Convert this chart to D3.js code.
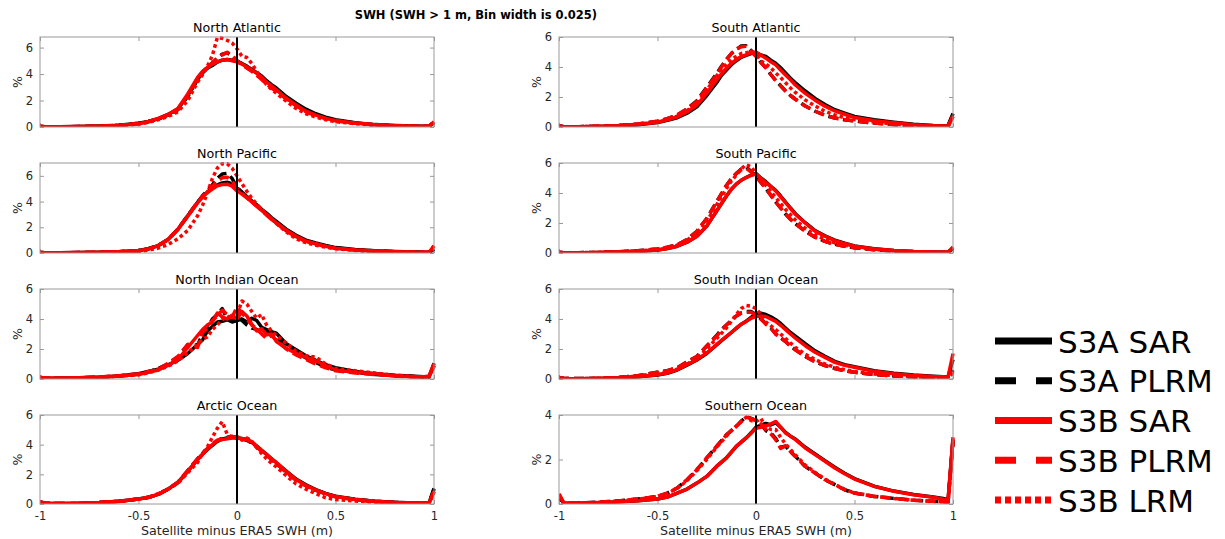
<!DOCTYPE html>
<html><head><meta charset="utf-8">
<script src="https://cdn.jsdelivr.net/npm/d3@7"></script>
<style>body{margin:0;background:#fff}svg{display:block}text{font-family:"DejaVu Sans",sans-serif}</style>
</head><body><svg id="c" width="1225" height="539"></svg>
<script>
// ---- data ----
const bins = [-1,-0.975,-0.9,-0.8,-0.7,-0.6, -0.5,-0.45,-0.4,-0.35,-0.3,-0.25, -0.2,-0.175,-0.15,-0.125,-0.1,-0.075,-0.05,-0.025, 0,0.025,0.05,0.075,0.1,0.125,0.15,0.175, 0.2,0.25,0.3,0.35,0.4,0.45,0.5, 0.6,0.7,0.8,0.9,0.95,0.975,1];
const seriesNames = ["S3A SAR","S3A PLRM","S3B SAR","S3B PLRM","S3B LRM"];
const regionNames = ["North Atlantic","North Pacific","North Indian Ocean","Arctic Ocean","South Atlantic","South Pacific","South Indian Ocean","Southern Ocean"];
const yMaxes = [6.8,7,6,6,6,6,6,4];
const xTicks = [-1,-0.5,0,0.5,1];
const xTickLabels = ["-1","-0.5","0","0.5","1"];
const title = "SWH (SWH > 1 m, Bin width is 0.025)";
const xLabel = "Satellite minus ERA5 SWH (m)";
const yLabel = "%";

// each region: rows in seriesNames order
const northAtlantic = [
 [0.03,0.02,0.02,0.03,0.07,0.13, 0.28,0.42,0.62,0.95,1.35,2.4, 3.6,4.1,4.45,4.65,4.9,5.05,5.1,5.05, 4.95,4.8,4.6,4.35,4.1,3.85,3.5,3.2, 2.95,2.3,1.8,1.35,1.0,0.75,0.55, 0.32,0.18,0.11,0.07,0.05,0.05,0.35],
 [0.03,0.02,0.02,0.03,0.07,0.13, 0.28,0.42,0.6,0.9,1.3,2.3, 3.6,4.1,4.5,4.85,5.2,5.5,5.6,5.4, 5.0,4.75,4.5,4.25,3.95,3.65,3.3,3.0, 2.75,2.15,1.65,1.2,0.9,0.68,0.5, 0.3,0.17,0.1,0.06,0.05,0.05,0.35],
 [0.05,0.02,0.02,0.03,0.06,0.12, 0.25,0.4,0.65,0.95,1.4,2.5, 3.75,4.2,4.5,4.75,4.92,5.05,5.1,5.0, 4.92,4.75,4.55,4.3,4.05,3.75,3.4,3.1, 2.8,2.17,1.66,1.2,0.9,0.65,0.48, 0.3,0.17,0.1,0.06,0.05,0.05,0.4],
 [0.05,0.02,0.02,0.03,0.06,0.12, 0.26,0.4,0.62,0.92,1.35,2.4, 3.7,4.15,4.5,4.85,5.2,5.45,5.65,5.35, 5.0,4.7,4.45,4.2,3.9,3.6,3.25,2.95, 2.7,2.1,1.6,1.15,0.85,0.64,0.47, 0.28,0.16,0.1,0.06,0.05,0.05,0.4],
 [0.04,0.02,0.02,0.03,0.05,0.1, 0.22,0.35,0.55,0.8,1.15,2.0, 3.4,3.95,4.6,5.4,6.75,6.7,6.55,6.35, 5.9,5.35,5.25,4.8,4.2,3.7,3.2,2.85, 2.55,1.95,1.4,1.0,0.75,0.55,0.4, 0.25,0.15,0.09,0.05,0.04,0.05,0.35]
];
const northPacific = [
 [0.04,0.02,0.02,0.03,0.05,0.1, 0.2,0.33,0.58,1.05,1.85,2.9, 3.95,4.4,4.75,5.05,5.3,5.45,5.5,5.4, 5.05,4.75,4.4,4.05,3.75,3.4,3.1,2.75, 2.45,1.85,1.38,1.0,0.78,0.58,0.42, 0.27,0.17,0.11,0.07,0.05,0.05,0.3],
 [0.04,0.02,0.02,0.03,0.05,0.1, 0.2,0.33,0.58,1.05,1.85,2.9, 3.95,4.45,4.85,5.3,5.8,6.15,6.2,5.8, 5.1,4.7,4.35,4.0,3.7,3.35,3.0,2.65, 2.35,1.75,1.3,0.95,0.72,0.54,0.4, 0.25,0.16,0.1,0.06,0.05,0.05,0.3],
 [0.04,0.02,0.02,0.03,0.05,0.1, 0.18,0.32,0.58,1.05,1.83,2.87, 3.9,4.35,4.7,4.98,5.22,5.33,5.35,5.2, 4.83,4.58,4.3,3.98,3.65,3.33,3.0,2.67, 2.35,1.78,1.3,0.92,0.73,0.52,0.37, 0.24,0.15,0.1,0.06,0.05,0.06,0.55],
 [0.04,0.02,0.02,0.03,0.05,0.1, 0.18,0.32,0.58,1.05,1.85,2.9, 3.95,4.4,4.8,5.2,5.6,5.85,5.9,5.6, 5.0,4.65,4.3,3.95,3.65,3.3,2.95,2.62, 2.3,1.72,1.25,0.9,0.7,0.5,0.36, 0.23,0.15,0.1,0.06,0.05,0.06,0.55],
 [0.03,0.02,0.02,0.02,0.04,0.07, 0.13,0.22,0.38,0.65,1.1,1.75, 2.9,3.7,4.7,5.8,6.6,6.95,6.95,6.6, 6.0,5.4,4.8,4.25,3.8,3.4,3.0,2.65, 2.3,1.65,1.1,0.8,0.6,0.45,0.33, 0.2,0.12,0.08,0.05,0.04,0.05,0.45]
];
const northIndian = [
 [0.1,0.05,0.05,0.08,0.12,0.2, 0.35,0.5,0.65,0.95,1.25,1.7, 2.3,2.6,3.2,3.5,3.8,3.85,3.95,3.8, 3.9,4.0,3.8,4.05,3.9,3.45,3.3,3.15, 3.05,2.35,1.95,1.55,1.25,0.95,0.75, 0.5,0.35,0.25,0.18,0.15,0.15,1.05],
 [0.1,0.05,0.05,0.08,0.12,0.2, 0.33,0.48,0.7,1.0,1.45,2.3, 2.25,3.0,3.4,4.0,4.3,4.7,4.0,3.9, 4.2,3.9,3.6,3.4,3.3,3.1,3.15,2.9, 2.8,2.2,1.8,1.4,1.1,0.8,0.6, 0.45,0.3,0.22,0.16,0.12,0.12,0.9],
 [0.12,0.06,0.05,0.08,0.14,0.2, 0.3,0.45,0.6,0.9,1.3,2.1, 2.9,3.3,3.6,3.8,4.4,4.15,4.0,4.25, 4.0,4.5,4.2,3.65,3.2,3.35,2.95,3.0, 2.5,2.05,1.7,1.45,1.2,0.9,0.6, 0.45,0.35,0.22,0.15,0.15,0.2,1.0],
 [0.12,0.06,0.05,0.08,0.13,0.22, 0.35,0.5,0.65,1.05,1.5,2.3, 2.1,3.1,3.4,3.9,4.2,4.6,4.3,4.1, 4.8,4.4,4.0,3.6,3.35,3.0,2.7,2.9, 2.6,2.0,1.6,1.3,1.0,0.75,0.55, 0.4,0.3,0.2,0.14,0.12,0.15,0.9],
 [0.1,0.05,0.05,0.07,0.1,0.18, 0.28,0.42,0.6,0.85,1.2,1.75, 2.3,2.65,2.8,3.3,3.6,3.95,4.2,4.0, 4.3,5.2,5.0,4.5,4.05,4.3,3.6,3.2, 2.9,2.4,1.85,1.55,1.45,1.0,0.7, 0.55,0.4,0.25,0.17,0.14,0.15,0.85]
];
const arctic = [
 [0.12,0.05,0.03,0.05,0.1,0.18, 0.34,0.45,0.65,1.0,1.45,2.2, 3.0,3.35,3.68,3.95,4.22,4.38,4.45,4.5, 4.47,4.42,4.35,4.15,3.9,3.62,3.35,3.05, 2.78,2.22,1.68,1.3,0.97,0.72,0.53, 0.32,0.19,0.11,0.07,0.06,0.06,1.05],
 [0.12,0.05,0.03,0.05,0.1,0.18, 0.33,0.44,0.65,1.0,1.45,2.25, 3.05,3.4,3.72,4.0,4.25,4.45,4.5,4.55, 4.45,4.38,4.3,4.1,3.85,3.58,3.3,3.0, 2.72,2.15,1.62,1.25,0.93,0.7,0.5, 0.3,0.18,0.1,0.07,0.06,0.06,1.0],
 [0.15,0.05,0.03,0.05,0.1,0.18, 0.33,0.45,0.65,1.0,1.45,2.2, 3.0,3.35,3.7,4.0,4.25,4.35,4.4,4.45, 4.45,4.4,4.35,4.2,3.9,3.62,3.35,3.05, 2.8,2.2,1.65,1.25,0.95,0.7,0.5, 0.3,0.18,0.1,0.07,0.06,0.06,0.85],
 [0.15,0.05,0.03,0.05,0.1,0.18, 0.33,0.45,0.66,1.0,1.48,2.25, 3.05,3.4,3.75,4.05,4.3,4.4,4.45,4.55, 4.45,4.4,4.35,4.1,3.85,3.55,3.3,3.0, 2.72,2.12,1.6,1.22,0.92,0.68,0.48, 0.28,0.17,0.1,0.06,0.06,0.06,0.85],
 [0.12,0.04,0.03,0.04,0.08,0.16, 0.32,0.45,0.7,1.0,1.4,2.1, 2.8,3.4,3.85,4.5,5.1,5.55,4.7,4.5, 4.55,4.3,4.45,4.25,3.8,3.4,3.05,2.75, 2.5,1.9,1.35,1.0,0.7,0.42,0.3, 0.2,0.13,0.08,0.05,0.05,0.05,0.8]
];
const southAtlantic = [
 [0.05,0.02,0.02,0.04,0.08,0.15, 0.3,0.45,0.62,0.92,1.35,2.1, 2.95,3.45,3.8,4.15,4.42,4.65,4.78,4.9, 4.95,4.8,4.7,4.45,4.25,3.95,3.6,3.25, 2.95,2.4,1.9,1.5,1.15,0.92,0.7, 0.48,0.32,0.18,0.1,0.08,0.1,0.9],
 [0.06,0.02,0.02,0.05,0.1,0.2, 0.38,0.55,0.8,1.2,1.75,2.65, 3.55,4.05,4.5,4.9,5.15,5.4,5.42,5.1, 4.75,4.3,3.95,3.5,3.1,2.75,2.4,2.1, 1.85,1.4,1.05,0.78,0.6,0.48,0.4, 0.26,0.16,0.09,0.06,0.05,0.06,0.8],
 [0.05,0.02,0.02,0.04,0.08,0.16, 0.32,0.48,0.67,1.0,1.46,2.24, 3.13,3.55,3.92,4.25,4.48,4.7,4.81,4.95, 5.0,4.78,4.59,4.35,4.14,3.8,3.47,3.15, 2.8,2.24,1.79,1.39,1.07,0.85,0.63, 0.42,0.28,0.15,0.08,0.06,0.06,0.7],
 [0.06,0.02,0.02,0.05,0.1,0.2, 0.38,0.55,0.8,1.2,1.7,2.6, 3.5,4.0,4.5,4.9,5.2,5.35,5.38,5.05, 4.7,4.3,3.95,3.5,3.1,2.75,2.4,2.1, 1.85,1.4,1.05,0.78,0.6,0.48,0.4, 0.26,0.16,0.09,0.06,0.05,0.06,0.75],
 [0.05,0.02,0.02,0.05,0.09,0.18, 0.35,0.5,0.72,1.1,1.55,2.45, 3.4,3.85,4.2,4.5,4.7,4.9,4.95,5.0, 4.85,4.4,4.2,3.95,3.6,3.3,2.95,2.6, 2.3,1.8,1.4,1.05,0.8,0.62,0.5, 0.33,0.2,0.11,0.07,0.05,0.06,0.75]
];
const southPacific = [
 [0.04,0.02,0.02,0.03,0.07,0.12, 0.2,0.3,0.45,0.72,1.12,1.79, 2.8,3.3,3.8,4.25,4.59,4.85,5.03,5.2, 5.3,5.0,4.75,4.45,4.18,3.8,3.4,3.0, 2.62,2.02,1.5,1.15,0.86,0.65,0.47, 0.28,0.17,0.1,0.07,0.05,0.05,0.3],
 [0.04,0.02,0.02,0.04,0.08,0.15, 0.27,0.38,0.55,0.9,1.45,2.3, 3.4,3.95,4.5,4.95,5.3,5.6,5.7,5.45, 5.1,4.7,4.3,3.85,3.4,3.0,2.6,2.25, 1.95,1.45,1.05,0.78,0.58,0.45,0.35, 0.22,0.14,0.08,0.05,0.04,0.05,0.3],
 [0.04,0.02,0.02,0.03,0.07,0.12, 0.2,0.3,0.45,0.72,1.12,1.79, 2.8,3.3,3.8,4.25,4.59,4.85,5.03,5.18, 5.26,4.98,4.7,4.42,4.14,3.75,3.36,2.97, 2.58,2.0,1.46,1.12,0.83,0.63,0.45, 0.27,0.16,0.1,0.07,0.05,0.05,0.4],
 [0.04,0.02,0.02,0.04,0.08,0.15, 0.27,0.38,0.55,0.9,1.45,2.3, 3.4,3.95,4.5,4.95,5.3,5.55,5.65,5.4, 5.1,4.7,4.3,3.85,3.4,3.0,2.6,2.25, 1.95,1.45,1.05,0.78,0.58,0.45,0.35, 0.22,0.14,0.08,0.05,0.04,0.05,0.4],
 [0.04,0.02,0.02,0.04,0.08,0.14, 0.25,0.36,0.52,0.85,1.35,2.1, 3.2,3.75,4.3,4.8,5.2,5.6,5.9,5.75, 5.3,4.9,4.5,4.1,3.7,3.3,2.9,2.55, 2.2,1.65,1.2,0.9,0.67,0.52,0.4, 0.25,0.15,0.09,0.06,0.05,0.05,0.35]
];
const southIndian = [
 [0.08,0.03,0.02,0.04,0.08,0.15, 0.27,0.38,0.6,0.92,1.27,1.7, 2.27,2.55,2.82,3.1,3.38,3.65,3.85,4.1, 4.35,4.38,4.3,4.15,3.95,3.7,3.4,3.1, 2.85,2.35,1.88,1.52,1.18,0.96,0.82, 0.55,0.38,0.26,0.18,0.15,0.13,1.3],
 [0.1,0.03,0.03,0.05,0.1,0.22, 0.45,0.55,0.75,1.15,1.5,2.2, 2.9,3.3,3.6,3.9,4.2,4.4,4.5,4.5, 4.3,4.0,3.7,3.4,3.0,2.75,2.5,2.2, 1.95,1.5,1.15,0.9,0.7,0.55,0.45, 0.3,0.2,0.15,0.1,0.08,0.08,0.6],
 [0.1,0.03,0.02,0.04,0.08,0.15, 0.29,0.4,0.62,0.95,1.29,1.73, 2.29,2.57,2.84,3.1,3.4,3.65,3.84,4.05, 4.17,4.2,4.17,4.0,3.84,3.58,3.29,3.0, 2.73,2.22,1.78,1.44,1.11,0.91,0.78, 0.51,0.35,0.24,0.17,0.15,0.12,1.7],
 [0.1,0.03,0.03,0.05,0.1,0.22, 0.45,0.55,0.75,1.15,1.5,2.2, 2.85,3.25,3.6,3.9,4.2,4.4,4.45,4.45, 4.25,4.0,3.65,3.4,3.0,2.75,2.5,2.2, 1.95,1.5,1.15,0.9,0.7,0.55,0.45, 0.3,0.2,0.15,0.1,0.08,0.08,0.5],
 [0.08,0.03,0.02,0.05,0.09,0.2, 0.38,0.5,0.65,1.0,1.35,2.0, 2.7,3.05,3.4,3.85,4.3,4.7,4.9,4.85, 4.7,4.3,3.8,3.55,3.3,3.0,2.7,2.4, 2.1,1.65,1.3,1.0,0.78,0.62,0.5, 0.33,0.22,0.15,0.11,0.09,0.09,0.4]
];
const southern = [
 [0.3,0.03,0.03,0.05,0.1,0.15, 0.22,0.31,0.49,0.67,0.94,1.24, 1.69,1.88,2.07,2.33,2.59,2.78,2.97,3.2, 3.45,3.55,3.62,3.55,3.65,3.45,3.22,3.05, 2.92,2.55,2.25,1.95,1.65,1.38,1.14, 0.8,0.58,0.43,0.31,0.25,0.18,2.9],
 [0.35,0.03,0.04,0.08,0.14,0.22, 0.34,0.49,0.72,1.09,1.54,2.07, 2.59,2.85,3.11,3.3,3.49,3.72,3.92,3.85, 3.75,3.6,3.3,3.2,2.95,2.55,2.6,2.35, 2.14,1.69,1.39,1.09,0.87,0.64,0.49, 0.34,0.25,0.17,0.12,0.1,0.09,2.8],
 [0.45,0.03,0.03,0.05,0.1,0.15, 0.22,0.31,0.49,0.67,0.94,1.24, 1.69,1.88,2.07,2.33,2.59,2.78,2.97,3.18, 3.4,3.45,3.5,3.6,3.71,3.45,3.19,3.05, 2.89,2.52,2.22,1.92,1.62,1.36,1.12, 0.79,0.57,0.42,0.3,0.22,0.15,3.0],
 [0.45,0.03,0.04,0.08,0.14,0.22, 0.34,0.49,0.72,1.09,1.54,2.07, 2.59,2.85,3.11,3.3,3.49,3.72,3.9,3.85, 3.75,3.6,3.34,3.15,2.89,2.5,2.62,2.35, 2.14,1.69,1.39,1.09,0.87,0.64,0.49, 0.34,0.25,0.17,0.12,0.1,0.09,2.9],
 [0.35,0.03,0.04,0.07,0.13,0.22, 0.33,0.48,0.7,1.05,1.5,2.0, 2.55,2.8,3.05,3.3,3.5,3.7,3.9,3.75, 3.7,3.85,3.45,3.35,3.35,3.0,2.7,2.45, 2.2,1.75,1.42,1.12,0.88,0.66,0.5, 0.35,0.25,0.17,0.12,0.1,0.09,2.8]
];
const regionData = [northAtlantic,northPacific,northIndian,arctic,southAtlantic,southPacific,southIndian,southern];

// ---- layout / style ----
const colX = [[40,434],[559,953]];
const rowY = [[37,127],[163,253],[289,379],[415,504]];
const seriesStyle = [
  {color:"#000000", dash:null},
  {color:"#000000", dash:"10,5"},
  {color:"#ff0000", dash:null},
  {color:"#ff0000", dash:"10,5"},
  {color:"#ff0000", dash:"3.5,3"}
];
const legendDash = [null,"21,20",null,"21,20","6,4"];

const svg = d3.select("#c");
svg.append("rect").attr("width",1225).attr("height",539).attr("fill","#fff");

svg.append("text").attr("x",476).attr("y",19).attr("text-anchor","middle")
  .attr("font-size","11.5px").attr("font-weight","bold").attr("fill","#000").text(title);

const defs = svg.append("defs");

regionData.forEach((rows, i) => {
  const col = Math.floor(i/4), row = i%4;
  const [x0,x1] = colX[col], [y0,y1] = rowY[row];
  const x = d3.scaleLinear().domain([-1,1]).range([x0,x1]);
  const y = d3.scaleLinear().domain([0,yMaxes[i]]).range([y1,y0]);
  const g = svg.append("g");
  const yt = d3.range(0, yMaxes[i]+0.001, 2);

  const axL = d3.axisLeft(y).tickValues(yt).tickSizeInner(-4).tickSizeOuter(0).tickPadding(7).tickFormat(d3.format("d"));
  const axR = d3.axisRight(y).tickValues(yt).tickSizeInner(-4).tickSizeOuter(0).tickFormat("");
  const axT = d3.axisTop(x).tickValues(xTicks).tickSizeInner(-4).tickSizeOuter(0).tickFormat("");
  const axB = d3.axisBottom(x).tickValues(xTicks).tickSizeInner(-4).tickSizeOuter(0).tickPadding(8)
      .tickFormat((d,k)=> row===3 ? xTickLabels[k] : "");
  const parts = [[axL,`translate(${x0},0)`],[axR,`translate(${x1},0)`],[axT,`translate(0,${y0})`],[axB,`translate(0,${y1})`]];
  parts.forEach(([ax,tr])=>{
    const a = g.append("g").attr("transform",tr).call(ax);
    a.select(".domain").remove();
    a.selectAll("line").attr("stroke","#999");
    a.selectAll("text").attr("fill","#262626").attr("font-size","11.5px").attr("font-family","DejaVu Sans");
  });

  const cid = "clip"+i;
  defs.append("clipPath").attr("id",cid).append("rect")
    .attr("x",x0).attr("y",y0-2).attr("width",x1-x0+2).attr("height",y1-y0+2);

  const line = d3.line().x((d,k)=>x(bins[k])).y(d=>y(d));
  const lg = g.append("g").attr("clip-path",`url(#${cid})`);
  rows.forEach((vals, s) => {
    const st = seriesStyle[s];
    lg.append("path").datum(vals).attr("d",line).attr("fill","none")
      .attr("stroke",st.color).attr("stroke-width",3.5)
      .attr("stroke-linejoin","round")
      .attr("stroke-dasharray",st.dash);
  });

  g.append("line").attr("x1",x(0)).attr("x2",x(0)).attr("y1",y1).attr("y2",y0)
    .attr("stroke","#000").attr("stroke-width",2);

  g.append("rect").attr("x",x0).attr("y",y0).attr("width",x1-x0).attr("height",y1-y0)
    .attr("fill","none").attr("stroke","#999").attr("stroke-width",1);

  g.append("text").attr("x",(x0+x1)/2).attr("y",y0-5).attr("text-anchor","middle")
    .attr("font-size","12.7px").attr("fill","#000").text(regionNames[i]);
  g.append("text").attr("transform",`translate(${x0-18},${(y0+y1)/2}) rotate(-90)`)
    .attr("text-anchor","middle").attr("font-size","12.5px").attr("fill","#262626").text(yLabel);
  if (row===3) {
    g.append("text").attr("x",(x0+x1)/2).attr("y",535).attr("text-anchor","middle")
      .attr("font-size","12.7px").attr("fill","#262626").text(xLabel);
  }
});

// legend
const legY = d3.scalePoint().domain(seriesNames).range([341,500]);
const leg = svg.append("g");
seriesNames.forEach((n,s)=>{
  const yy = legY(n);
  leg.append("line").attr("x1",995).attr("x2",1052).attr("y1",yy).attr("y2",yy)
    .attr("stroke",seriesStyle[s].color).attr("stroke-width",7)
    .attr("stroke-dasharray",legendDash[s]);
  leg.append("text").attr("x",1058).attr("y",yy+11.5).attr("font-size","31px").attr("fill","#000").text(n);
});
</script></body></html>
